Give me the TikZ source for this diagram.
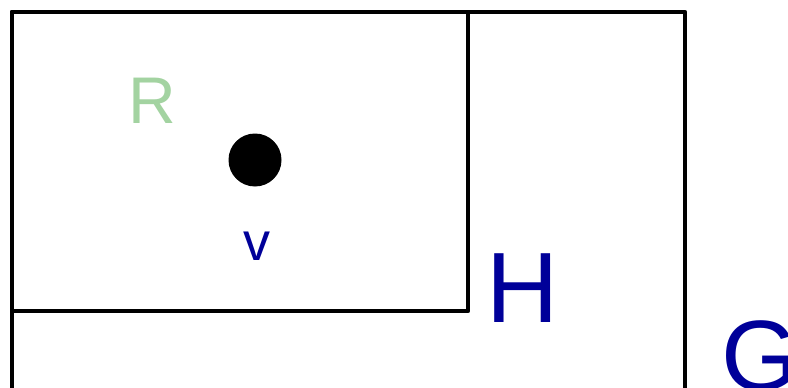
\documentclass[tikz,border=0pt]{standalone}
\usepackage{fontspec}
\setmainfont{Liberation Sans}
\usetikzlibrary{positioning}
\definecolor{setblue}{HTML}{000099}
\definecolor{setgreen}{HTML}{A3D3A1}

\tikzset{
  setbox/.style={draw, line width=4.5pt, line join=round},
  vertexdot/.style={circle, fill=black, minimum size=53pt, inner sep=0pt},
  biglabel/.style={setblue, font=\fontsize{100}{100}\selectfont, anchor=base, inner sep=0pt},
}

\begin{document}
\begin{tikzpicture}[x=1pt,y=-1pt]
  \useasboundingbox (0,0) rectangle (788,388);
  \clip (0,0) rectangle (788,388);
  % outer set G, runs past the bottom edge
  \draw[setbox] (12,420) -- (12,12) -- (685,12) -- (685,420);
  % subgraph H
  \draw[setbox] (12,12) rectangle (468,311);
  \node[vertexdot] (dot) at (255,160) {};
  \node[setgreen, font=\fontsize{66}{66}\selectfont, anchor=base, inner sep=0pt] (R) at (152,123) {R};
  \node[setblue, font=\fontsize{54}{54}\selectfont, anchor=base, inner sep=0pt] (v) at (257,260) {v};
  \node[biglabel] (H) at (523,322) {H};
  \node[biglabel, anchor=base west] (G) at (721,390) {G};
\end{tikzpicture}
\end{document}
